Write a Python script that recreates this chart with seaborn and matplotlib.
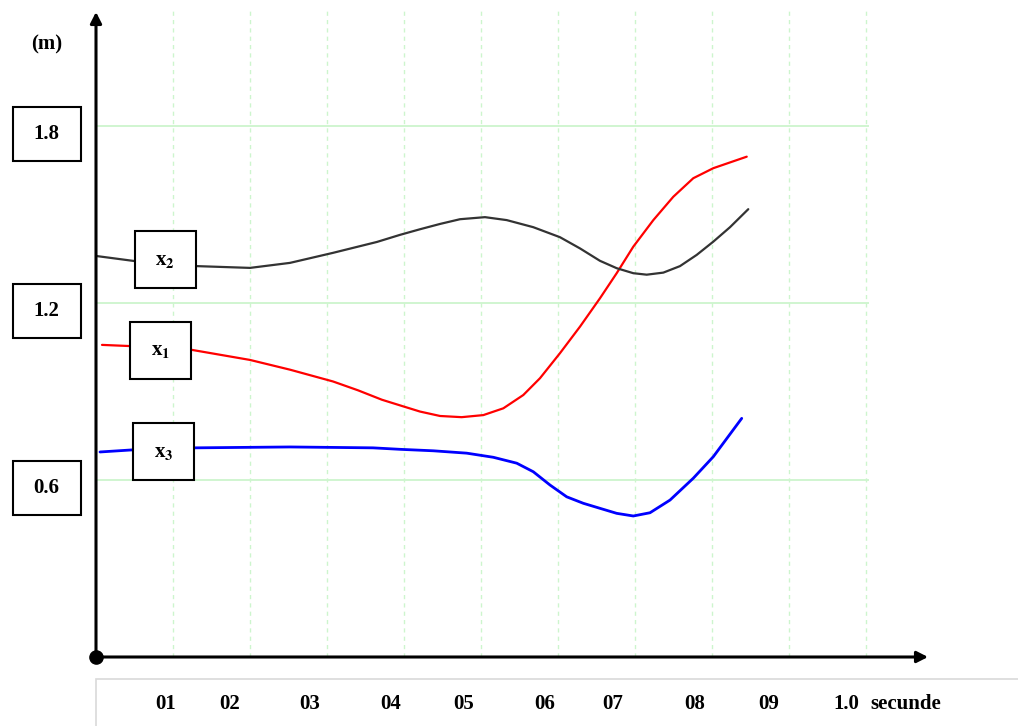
import matplotlib
matplotlib.use('Agg')
import matplotlib.pyplot as plt
import matplotlib.patches as mpatches
import seaborn as sns

# Data (time in s, displacement in m)
x1_t = [0.0078, 0.0442, 0.1247, 0.2000, 0.2519, 0.3078, 0.3403, 0.3714, 0.3948,
        0.4208, 0.4468, 0.4749, 0.5030, 0.5290, 0.5549, 0.5766, 0.6026, 0.6286,
        0.6545, 0.6762, 0.6978, 0.7238, 0.7497, 0.7757, 0.8017, 0.8451]
x1_v = [1.058, 1.054, 1.041, 1.007, 0.974, 0.934, 0.904, 0.872, 0.853,
        0.832, 0.817, 0.813, 0.820, 0.843, 0.888, 0.945, 1.030, 1.120,
        1.216, 1.301, 1.391, 1.481, 1.560, 1.623, 1.657, 1.696]

x2_t = [0.0013, 0.0506, 0.1312, 0.2000, 0.2519, 0.3078, 0.3649, 0.3948, 0.4208,
        0.4468, 0.4727, 0.5052, 0.5334, 0.5679, 0.6026, 0.6286, 0.6545, 0.6762,
        0.6978, 0.7152, 0.7368, 0.7584, 0.7801, 0.8017, 0.8234, 0.8471]
x2_v = [1.359, 1.342, 1.325, 1.319, 1.336, 1.370, 1.407, 1.431, 1.450,
        1.468, 1.484, 1.491, 1.481, 1.457, 1.423, 1.385, 1.343, 1.318,
        1.301, 1.296, 1.303, 1.325, 1.363, 1.408, 1.457, 1.518]

x3_t = [0.0052, 0.0468, 0.1286, 0.2519, 0.3597, 0.3948, 0.4381, 0.4814, 0.5160,
        0.5464, 0.5679, 0.5896, 0.6113, 0.6329, 0.6545, 0.6762, 0.6978, 0.7195,
        0.7455, 0.7757, 0.8017, 0.8386]
x3_v = [0.695, 0.702, 0.709, 0.712, 0.709, 0.704, 0.699, 0.691, 0.677,
        0.657, 0.628, 0.583, 0.543, 0.521, 0.504, 0.487, 0.478, 0.489,
        0.532, 0.606, 0.679, 0.809]

y_ticks = [0.6, 1.2, 1.8]
y_tick_labels = ['0.6', '1.2', '1.8']
grid_x = [0.1, 0.2, 0.3, 0.4, 0.5, 0.6, 0.7, 0.8, 0.9, 1.0]
x_tick_labels = ['01', '02', '03', '04', '05', '06', '07', '08', '09', '1.0']
x_tick_pos = [0.091, 0.174, 0.278, 0.382, 0.478, 0.583, 0.671, 0.777, 0.873, 0.974]

series = [
    ('x$_{\\mathbf{1}}$', x1_t, x1_v, '#ff0000', (0.0844, 1.039)),
    ('x$_{\\mathbf{2}}$', x2_t, x2_v, '#333333', (0.0900, 1.347)),
    ('x$_{\\mathbf{3}}$', x3_t, x3_v, '#0000ff', (0.0877, 0.696)),
]

sns.set_theme(style='white')
plt.rcParams['font.family'] = ['Liberation Serif', 'DejaVu Serif']
plt.rcParams['font.weight'] = 'bold'
plt.rcParams['mathtext.fontset'] = 'stix'
plt.rcParams['mathtext.default'] = 'bf'

W, H = 1018, 726
fig = plt.figure(figsize=(W / 100, H / 100), dpi=100)
fig.patch.set_facecolor('white')
ax = fig.add_axes([96 / W, 69 / H, 832 / W, 645 / H])
ax.set_facecolor('white')
ax.set_xlim(0, 832 / 770)
ax.set_ylim(0, 645 / 295)
for s in ax.spines.values():
    s.set_visible(False)
ax.set_xticks([])
ax.set_yticks([])

# light green grid
GRID = '#cdf5cd'
ax.vlines(grid_x, 0, 2.2, colors=GRID, linestyles=(0, (3, 3)), linewidth=1.0,
          zorder=0, clip_on=False)
ax.hlines(y_ticks, 0, 1.004, colors=GRID, linewidth=1.3, zorder=0)

for name, t, v, col, _ in series:
    lw = 2.0 if col == '#0000ff' else 1.6
    sns.lineplot(x=t, y=v, color=col, linewidth=lw, sort=False,
                 estimator=None, ax=ax, zorder=2)

# axes with arrows
arrow = dict(arrowstyle='-|>,head_length=0.55,head_width=0.28', color='black',
             lw=2.2, shrinkA=0, shrinkB=0)
ax.annotate('', xy=(1, 0), xytext=(0, 0), xycoords='axes fraction',
            arrowprops=arrow, annotation_clip=False)
ax.annotate('', xy=(0, 1), xytext=(0, 0), xycoords='axes fraction',
            arrowprops=arrow, annotation_clip=False)
ax.plot([0], [0], 'o', color='black', markersize=9.5, clip_on=False, zorder=6)

# series label boxes
for name, t, v, col, (cx, cy) in series:
    bw, bh = 0.0792, 0.193
    ax.add_patch(mpatches.Rectangle((cx - bw / 2, cy - bh / 2), bw, bh,
                                    facecolor='white', edgecolor='black',
                                    linewidth=1.5, zorder=4))
    ax.text(cx, cy, name, ha='center', va='center', fontsize=15,
            fontweight='bold', color='black', zorder=5)

# boxed y tick labels
for val, lab in zip(y_ticks, y_tick_labels):
    bw, bh = 0.088, 0.183
    cx, cy = -0.064, val - 0.028
    ax.add_patch(mpatches.Rectangle((cx - bw / 2, cy - bh / 2), bw, bh,
                                    facecolor='white', edgecolor='black',
                                    linewidth=1.5, clip_on=False, zorder=4))
    ax.text(cx, cy, lab, ha='center', va='center', fontsize=15,
            fontweight='bold', color='black', zorder=5)

ax.text(-0.0636, 2.078, '(m)', ha='center', va='center', fontsize=15,
        fontweight='bold', color='black')

# x labels under the axis
xt = ax.get_xaxis_transform()
for pos, lab in zip(x_tick_pos, x_tick_labels):
    ax.text(pos, -0.0735, lab, transform=xt, ha='center', va='center',
            fontsize=15, fontweight='bold', color='black')
ax.text(1.052, -0.0735, 'secunde', transform=xt, ha='center', va='center',
        fontsize=15, fontweight='bold', color='black')

fig.patches.append(mpatches.Rectangle((96 / W, -0.1), 1, 0.1 + 47 / H,
                                      transform=fig.transFigure, fill=False,
                                      edgecolor='#d9d9d9', linewidth=1.2))

plt.savefig('out.png', dpi=100, facecolor='white')
plt.close()
